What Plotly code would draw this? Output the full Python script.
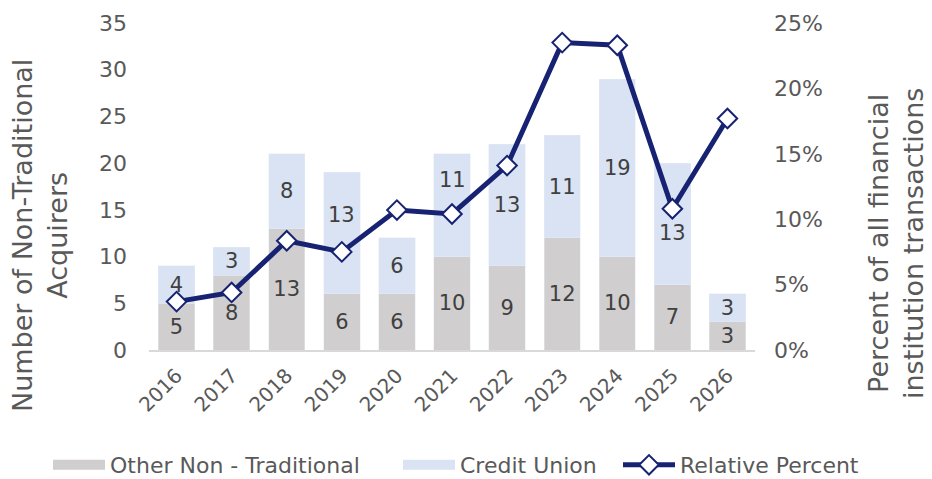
import plotly.graph_objects as go

years = ["2016", "2017", "2018", "2019", "2020", "2021", "2022", "2023", "2024", "2025", "2026"]
other_non_traditional = [5, 8, 13, 6, 6, 10, 9, 12, 10, 7, 3]
credit_union = [4, 3, 8, 13, 6, 11, 13, 11, 19, 13, 3]
relative_percent = [0.037, 0.044, 0.0835, 0.075, 0.107, 0.104, 0.141, 0.235, 0.233, 0.108, 0.177]

FONT = "DejaVu Sans"
TXT = "#595959"
LBL = "#404040"
GRAY = "#D0CECE"
BLUE = "#DAE3F3"
NAVY = "#172372"
OFF = 8  # page body margin
FW, FH = 932 - OFF, 500
# plot area in reference (page) pixels
PL, PR, PT, PB = 149, 755, 23, 350
L, T = PL - OFF, PT - OFF
R = 932 - PR
B = FH - (PB - OFF)
W = FW - L - R
H = FH - T - B
ITEMW = 52
# data labels that were moved off the line in the original (pixel nudges)
LABEL_NUDGE = {"2019": 18, "2021": 25, "2025": -9}


def px_x(p):
    return (p - PL) / W


def px_y(p):
    return (PB - p) / H


cu_text = ["" if y in LABEL_NUDGE else str(v) for y, v in zip(years, credit_union)]

fig = go.Figure()
fig.add_trace(go.Bar(
    x=years, y=other_non_traditional, name="Other Non - Traditional",
    marker_color=GRAY, text=other_non_traditional, textposition="inside",
    insidetextanchor="middle", textangle=0, showlegend=False,
    textfont=dict(color=LBL, size=21, family=FONT),
))
fig.add_trace(go.Bar(
    x=years, y=credit_union, name="Credit Union",
    marker_color=BLUE, text=cu_text, textposition="inside",
    insidetextanchor="middle", textangle=0, showlegend=False,
    textfont=dict(color=LBL, size=21, family=FONT),
))
fig.add_trace(go.Scatter(
    x=years, y=relative_percent, name="Relative Percent", yaxis="y2",
    mode="lines+markers", legend="legend3",
    line=dict(color=NAVY, width=5),
    marker=dict(symbol="diamond", size=15, color="white", line=dict(color=NAVY, width=2)),
))
# legend keys for the bar series (wide swatches as in the reference)
fig.add_trace(go.Scatter(
    x=[None], y=[None], mode="lines", name="Other Non - Traditional",
    line=dict(color=GRAY, width=15), legend="legend",
))
fig.add_trace(go.Scatter(
    x=[None], y=[None], mode="lines", name="Credit Union",
    line=dict(color=BLUE, width=15), legend="legend2",
))

annotations = [
    dict(text="Number of Non-Traditional<br>Acquirers", xref="paper", yref="paper",
         x=px_x(40), y=px_y(236), textangle=-90, showarrow=False,
         font=dict(size=27, color=TXT), xanchor="center", yanchor="middle"),
    dict(text="Percent of all financial<br>institution transactions", xref="paper", yref="paper",
         x=px_x(896), y=px_y(244), textangle=-90, showarrow=False,
         font=dict(size=27, color=TXT), xanchor="center", yanchor="middle"),
]
for i, (yr, base, val) in enumerate(zip(years, other_non_traditional, credit_union)):
    if yr in LABEL_NUDGE:
        annotations.append(dict(
            x=i, y=base + val / 2, xref="x", yref="y", text=str(val), showarrow=False,
            yshift=LABEL_NUDGE[yr], font=dict(size=21, color=LBL, family=FONT),
            xanchor="center", yanchor="middle",
        ))

leg_common = dict(orientation="h", xref="paper", yref="paper", xanchor="left",
                  yanchor="middle", y=px_y(465), font=dict(size=22, color=TXT),
                  bgcolor="rgba(0,0,0,0)", itemwidth=ITEMW)

fig.update_layout(
    width=FW, height=FH,
    margin=dict(l=L, r=R, t=T, b=B),
    barmode="stack", bargap=0.34,
    plot_bgcolor="white", paper_bgcolor="white",
    font=dict(family=FONT, color=TXT, size=21),
    uniformtext=dict(minsize=21, mode="show"),
    xaxis=dict(
        type="category", categoryorder="array", categoryarray=years,
        range=[-0.5, len(years) - 0.5],
        tickangle=-45, showline=True, linecolor="#D9D9D9", linewidth=2,
        tickfont=dict(size=20, color=TXT), showgrid=False, ticks="",
        automargin=False, ticklabelstandoff=4,
    ),
    yaxis=dict(
        range=[0, 35], dtick=5, showgrid=False, zeroline=False,
        tickfont=dict(size=22, color=TXT), ticklabelstandoff=21, automargin=False,
    ),
    yaxis2=dict(
        range=[0, 0.25], dtick=0.05, tickformat=".0%", overlaying="y", side="right",
        showgrid=False, zeroline=False, tickfont=dict(size=22, color=TXT),
        ticklabelstandoff=18, automargin=False,
    ),
    legend=dict(x=px_x(110 - 40 - (ITEMW - 30)), **leg_common),
    legend2=dict(x=px_x(460 - 40 - (ITEMW - 30)), **leg_common),
    legend3=dict(x=px_x(680 - 40 - (ITEMW - 30)), **leg_common),
    annotations=annotations,
)

fig.write_html("out.html")
